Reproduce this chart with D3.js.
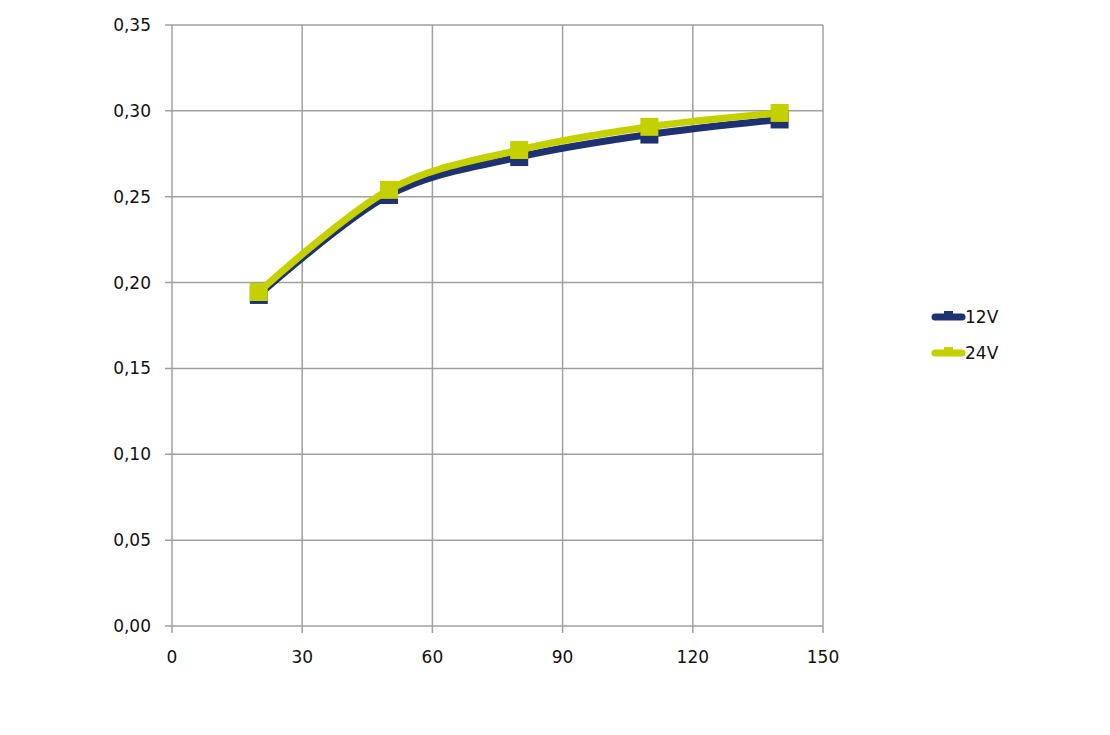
<!DOCTYPE html>
<html><head><meta charset="utf-8">
<script src="https://cdn.jsdelivr.net/npm/d3@7"></script>
<style>body{margin:0;background:#fff}text{font-family:"DejaVu Sans",sans-serif}</style>
</head><body><svg id="c" width="1110" height="735"></svg>
<script>
const xValues = [20, 50, 80, 110, 140];
const series12V = [0.1928, 0.2510, 0.2731, 0.2862, 0.2950];
const series24V = [0.1945, 0.2540, 0.2772, 0.2907, 0.2988];
const seriesNames = ["12V", "24V"];
const colors = ["#1d3173", "#c4d000"];
const xTicks = [0, 30, 60, 90, 120, 150];
const yTicks = [0, 0.05, 0.10, 0.15, 0.20, 0.25, 0.30, 0.35];

const svg = d3.select("#c");
const x = d3.scaleLinear().domain([0, 150]).range([172, 823]);
const y = d3.scaleLinear().domain([0, 0.35]).range([626, 25]);
const fmt = d => d.toFixed(2).replace(".", ",");

// grid
svg.append("g").selectAll("line").data(yTicks).join("line")
  .attr("x1", 165).attr("x2", 823).attr("y1", d => y(d)).attr("y2", d => y(d))
  .attr("stroke", "#a0a0a0").attr("stroke-width", 1.5);
svg.append("g").selectAll("line").data(xTicks).join("line")
  .attr("y1", 25).attr("y2", 633).attr("x1", d => x(d)).attr("x2", d => x(d))
  .attr("stroke", "#a0a0a0").attr("stroke-width", 1.5);

svg.append("g").selectAll("text").data(yTicks).join("text")
  .attr("x", 151).attr("y", d => y(d)).attr("dy", "0.35em")
  .attr("text-anchor", "end").attr("font-size", 17).attr("fill", "#111")
  .text(fmt);
svg.append("g").selectAll("text").data(xTicks).join("text")
  .attr("x", d => x(d)).attr("y", 657).attr("dy", "0.35em")
  .attr("text-anchor", "middle").attr("font-size", 17).attr("fill", "#111")
  .text(d => d);

const line = d3.line().x(d => x(d[0])).y(d => y(d[1])).curve(d3.curveCardinal.tension(0));
[series12V, series24V].forEach((s, i) => {
  const pts = xValues.map((v, j) => [v, s[j]]);
  const g = svg.append("g");
  g.append("path").attr("d", line(pts)).attr("fill", "none")
    .attr("stroke", colors[i]).attr("stroke-width", 7).attr("stroke-linejoin", "round");
  g.selectAll("rect").data(pts).join("rect")
    .attr("x", d => x(d[0]) - 9).attr("y", d => y(d[1]) - 9)
    .attr("width", 18).attr("height", 18).attr("fill", colors[i]);
});

// legend
seriesNames.forEach((n, i) => {
  const ly = 317 + i * 36;
  const g = svg.append("g");
  g.append("line").attr("x1", 935).attr("x2", 962).attr("y1", ly).attr("y2", ly)
    .attr("stroke", colors[i]).attr("stroke-width", 7).attr("stroke-linecap", "round");
  g.append("rect").attr("x", 944).attr("y", ly - 6).attr("width", 9).attr("height", 9).attr("fill", colors[i]);
  g.append("text").attr("x", 965).attr("y", ly).attr("dy", "0.35em")
    .attr("font-size", 17).attr("fill", "#111").text(n);
});
</script></body></html>
